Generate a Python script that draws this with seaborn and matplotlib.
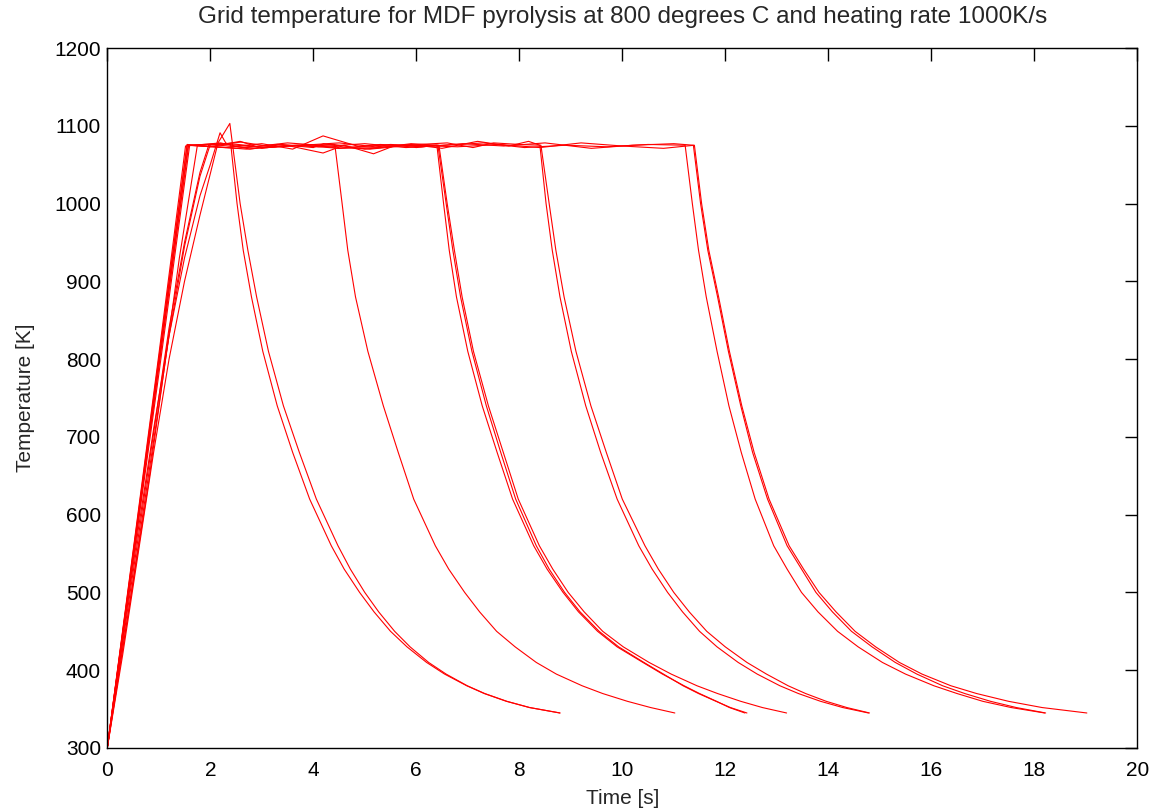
import matplotlib
matplotlib.use("Agg")
import matplotlib.pyplot as plt
import seaborn as sns

sns.set_style("white")
plt.rcParams['font.family'] = ['Liberation Sans', 'DejaVu Sans']

# temperature levels on the cooling side, shared by every run
cool_levels = [1000, 940, 880, 810, 740, 680, 620, 560, 530, 500,
               475, 450, 430, 410, 395, 380, 370, 360, 352, 345]

# run A1 (spike before the drop)
a1_t = [0, 0.3, 0.6, 0.9, 1.2, 1.5, 1.8, 2.15, 2.38]
a1_T = [300, 420, 550, 680, 800, 900, 985, 1078, 1103]
a1_cool = [2.58, 2.73, 2.90, 3.13, 3.42, 3.73, 4.06, 4.48, 4.72, 5.00,
           5.27, 5.58, 5.88, 6.24, 6.58, 6.99, 7.33, 7.76, 8.20, 8.79]

# run A2
a2_t = [0, 0.3, 0.6, 0.9, 1.2, 1.5, 1.8, 2.0, 2.19, 2.3, 2.4]
a2_T = [300, 440, 580, 710, 830, 930, 1010, 1050, 1091, 1078, 1075]
a2_cool = [2.52, 2.64, 2.80, 3.02, 3.30, 3.60, 3.93, 4.35, 4.60, 4.90,
           5.18, 5.50, 5.82, 6.20, 6.55, 6.98, 7.32, 7.75, 8.20, 8.79]

# run B
b_t = [0, 1.0, 1.55, 2.0, 2.58, 3.0, 3.5, 4.0, 4.2, 4.42]
b_T = [300, 800, 1076, 1073, 1080, 1071, 1075, 1072, 1077, 1075]
b_cool = [4.56, 4.67, 4.82, 5.06, 5.36, 5.65, 5.95, 6.37, 6.63, 6.94,
          7.23, 7.56, 7.92, 8.33, 8.72, 9.22, 9.62, 10.10, 10.55, 11.02]

# runs C1-C3
c1_t = [0, 1.0, 1.52, 2.2, 2.77, 3.4, 4.19, 4.6, 5.17, 5.6, 6.0, 6.4]
c1_T = [300, 805, 1074, 1078, 1070, 1076, 1065, 1075, 1064, 1075, 1072, 1075]
c1_cool = [6.53, 6.64, 6.78, 7.00, 7.28, 7.57, 7.87, 8.28, 8.54, 8.85,
           9.15, 9.52, 9.90, 10.40, 10.78, 11.20, 11.50, 11.83, 12.08, 12.38]

c2_t = [0, 1.0, 1.58, 2.3, 3.0, 3.6, 4.19, 4.9, 5.5, 6.1, 6.42]
c2_T = [300, 790, 1075, 1072, 1077, 1070, 1087, 1073, 1076, 1074, 1075]
c2_cool = [6.58, 6.71, 6.86, 7.08, 7.36, 7.64, 7.93, 8.33, 8.58, 8.88,
           9.18, 9.55, 9.93, 10.42, 10.80, 11.18, 11.48, 11.82, 12.10, 12.42]

c3_t = [0, 0.4, 0.8, 1.2, 1.5, 1.8, 1.97, 2.6, 3.2, 3.9, 4.5, 5.3, 5.9, 6.44]
c3_T = [300, 480, 660, 840, 950, 1040, 1075, 1079, 1073, 1076, 1071, 1072, 1077, 1075]
c3_cool = [6.60, 6.74, 6.89, 7.11, 7.40, 7.69, 7.98, 8.39, 8.65, 8.95,
           9.26, 9.62, 10.02, 10.52, 10.95, 11.45, 11.85, 12.30, 12.72, 13.19]

# runs D1-D2
d1_t = [0, 1.0, 1.6, 2.4, 3.1, 3.8, 4.5, 5.2, 5.9, 6.5, 7.19, 7.8, 8.18, 8.4]
d1_T = [300, 780, 1075, 1077, 1072, 1075, 1078, 1073, 1076, 1071, 1080, 1074, 1080, 1075]
d1_cool = [8.52, 8.64, 8.79, 9.01, 9.29, 9.58, 9.90, 10.32, 10.58, 10.88,
           11.17, 11.50, 11.84, 12.25, 12.62, 13.06, 13.42, 13.85, 14.28, 14.78]

d2_t = [0, 0.8, 1.4, 1.75, 2.7, 3.5, 4.4, 5.0, 5.8, 6.6, 7.1, 7.5, 8.0, 8.42]
d2_T = [300, 640, 930, 1075, 1070, 1074, 1076, 1070, 1075, 1078, 1072, 1078, 1076, 1075]
d2_cool = [8.58, 8.71, 8.87, 9.10, 9.39, 9.69, 10.00, 10.44, 10.70, 11.00,
           11.30, 11.64, 12.00, 12.42, 12.80, 13.22, 13.56, 13.96, 14.36, 14.80]

# runs E1-E3
e1_t = [0, 1.0, 1.55, 2.5, 3.3, 4.1, 5.0, 5.8, 6.6, 7.3, 8.1, 8.9, 9.7, 10.5, 11.22]
e1_T = [300, 795, 1075, 1071, 1076, 1073, 1077, 1072, 1075, 1078, 1072, 1075, 1073, 1076, 1075]
e1_cool = [11.36, 11.48, 11.63, 11.84, 12.07, 12.31, 12.58, 12.94, 13.20, 13.48,
           13.80, 14.18, 14.58, 15.05, 15.50, 16.05, 16.50, 17.00, 17.55, 18.20]

e2_t = [0, 1.0, 1.57, 2.2, 3.0, 3.7, 4.5, 5.3, 6.1, 6.9, 7.7, 8.5, 9.4, 10.2, 11.0, 11.38]
e2_T = [300, 790, 1075, 1077, 1072, 1075, 1071, 1076, 1073, 1077, 1074, 1078, 1071, 1075, 1077, 1075]
e2_cool = [11.52, 11.66, 11.85, 12.06, 12.30, 12.53, 12.82, 13.20, 13.48, 13.76,
           14.08, 14.45, 14.85, 15.30, 15.72, 16.22, 16.65, 17.15, 17.65, 18.22]

e3_t = [0, 0.4, 0.8, 1.2, 1.5, 1.8, 2.0, 2.7, 3.5, 4.3, 5.1, 5.9, 6.8, 7.6, 8.4, 9.2, 10.0, 10.8, 11.40]
e3_T = [300, 470, 650, 830, 945, 1035, 1076, 1072, 1078, 1074, 1070, 1075, 1073, 1076, 1072, 1078, 1074, 1071, 1075]
e3_cool = [11.54, 11.68, 11.87, 12.08, 12.32, 12.56, 12.85, 13.24, 13.52, 13.82,
           14.15, 14.52, 14.92, 15.38, 15.82, 16.38, 16.88, 17.50, 18.15, 19.02]

runs = [
    (a1_t, a1_T, a1_cool), (a2_t, a2_T, a2_cool), (b_t, b_T, b_cool),
    (c1_t, c1_T, c1_cool), (c2_t, c2_T, c2_cool), (c3_t, c3_T, c3_cool),
    (d1_t, d1_T, d1_cool), (d2_t, d2_T, d2_cool),
    (e1_t, e1_T, e1_cool), (e2_t, e2_T, e2_cool), (e3_t, e3_T, e3_cool),
]

fig = plt.figure(figsize=(11.57, 8.11), dpi=100)
ax = fig.add_axes([0.0927, 0.0777, 0.8903, 0.8631])

for t, T, cool in runs:
    sns.lineplot(x=t + cool, y=T + cool_levels, sort=False, estimator=None,
                 color='red', linewidth=0.8, ax=ax)

ax.set_xlim(0, 20)
ax.set_ylim(300, 1200)
ax.set_xticks(range(0, 21, 2))
ax.set_yticks(range(300, 1201, 100))
ax.tick_params(direction='in', length=9, width=1, top=True, right=True,
               labelsize=15, colors='black')
ax.tick_params(axis='x', pad=9.5)
ax.tick_params(axis='y', pad=4.5)
for s in ax.spines.values():
    s.set_color('black')
    s.set_linewidth(1)

ax.set_xlabel('Time [s]', fontsize=15, labelpad=6)
ax.set_ylabel('Temperature [K]', fontsize=15, labelpad=14)
ax.set_title('Grid temperature for MDF pyrolysis at 800 degrees C and heating rate 1000K/s',
             fontsize=17.5, pad=18)

fig.savefig('out.png', dpi=100)
